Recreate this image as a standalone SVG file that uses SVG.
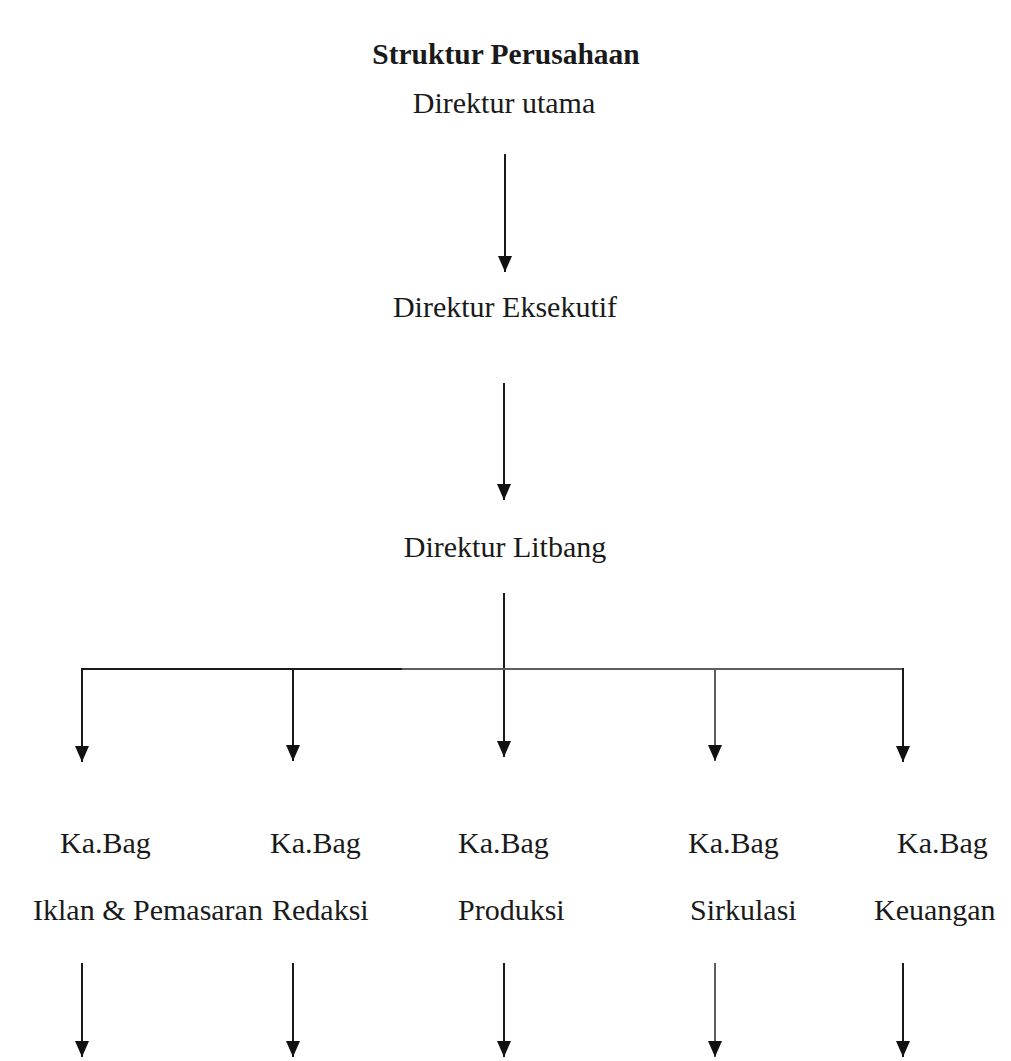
<svg xmlns="http://www.w3.org/2000/svg" width="1011" height="1061" viewBox="0 0 1011 1061">
<style>
  text { font-family: "Liberation Serif", "Times New Roman", serif; font-size: 30px; fill: #1a1a1a; }
  .title { font-weight: bold; font-size: 29.5px; }
  .ln { stroke: #1a1a1a; stroke-width: 2; fill: none; }
  .lg { stroke: #5e5e5e; stroke-width: 2; fill: none; }
</style>
<defs>
  <marker id="ah" markerUnits="userSpaceOnUse" markerWidth="18" markerHeight="16" refX="16" refY="7" orient="auto" viewBox="0 0 18 16">
    <path d="M0,0 L16,7 L0,14 z" fill="#111"/>
  </marker>
</defs>
<rect width="1011" height="1061" fill="#ffffff"/>
<g id="title"><text class="title" x="506" y="64" text-anchor="middle">Struktur Perusahaan</text></g>
<g id="direktur-utama"><text x="504" y="113" text-anchor="middle">Direktur utama</text></g>
<g id="direktur-eksekutif"><text x="505" y="317" text-anchor="middle">Direktur Eksekutif</text></g>
<g id="direktur-litbang"><text x="505" y="557" text-anchor="middle">Direktur Litbang</text></g>
<g id="kabag-iklan"><text x="60" y="853">Ka.Bag</text><text x="33" y="920">Iklan &amp; Pemasaran</text></g>
<g id="kabag-redaksi"><text x="270" y="853">Ka.Bag</text><text x="272" y="920">Redaksi</text></g>
<g id="kabag-produksi"><text x="458" y="853">Ka.Bag</text><text x="458" y="920">Produksi</text></g>
<g id="kabag-sirkulasi"><text x="688" y="853">Ka.Bag</text><text x="690" y="920">Sirkulasi</text></g>
<g id="kabag-keuangan"><text x="897" y="853">Ka.Bag</text><text x="874" y="920">Keuangan</text></g>
<g id="connectors">
  <line class="ln" x1="505" y1="154" x2="505" y2="272" marker-end="url(#ah)"/>
  <line class="ln" x1="504" y1="383" x2="504" y2="500" marker-end="url(#ah)"/>
  <line class="ln" x1="504" y1="593" x2="504" y2="757" marker-end="url(#ah)"/>
  <line class="ln" x1="82" y1="669" x2="402" y2="669"/>
  <line class="lg" x1="402" y1="669" x2="903" y2="669"/>
  <line class="ln" x1="82" y1="668" x2="82" y2="762" marker-end="url(#ah)"/>
  <line class="ln" x1="293" y1="669" x2="293" y2="761" marker-end="url(#ah)"/>
  <line class="lg" x1="715" y1="669" x2="715" y2="761" marker-end="url(#ah)"/>
  <line class="ln" x1="903" y1="668" x2="903" y2="762" marker-end="url(#ah)"/>
  <line class="ln" x1="82" y1="963" x2="82" y2="1057" marker-end="url(#ah)"/>
  <line class="ln" x1="293" y1="963" x2="293" y2="1057" marker-end="url(#ah)"/>
  <line class="ln" x1="504" y1="963" x2="504" y2="1057" marker-end="url(#ah)"/>
  <line class="lg" x1="715" y1="963" x2="715" y2="1057" marker-end="url(#ah)"/>
  <line class="ln" x1="903" y1="963" x2="903" y2="1057" marker-end="url(#ah)"/>
</g>
</svg>
